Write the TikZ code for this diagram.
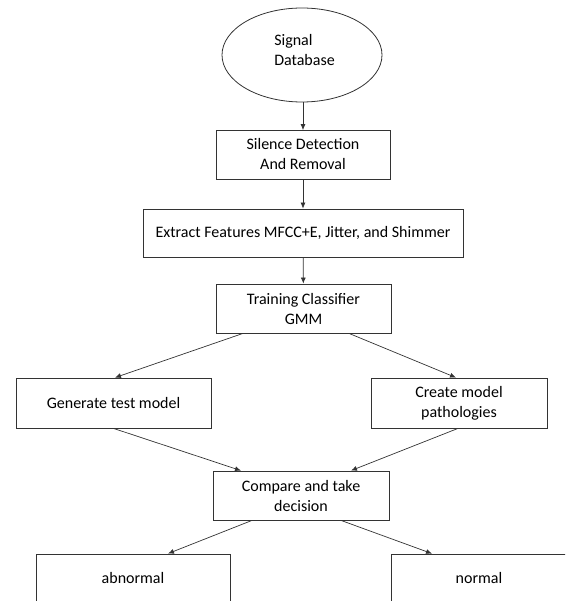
\documentclass[tikz,border=0pt]{standalone}
\usepackage{fontspec}
\setmainfont{Carlito}
\usetikzlibrary{arrows.meta, positioning, shapes.geometric}

\begin{document}
\begin{tikzpicture}[x=1pt, y=-1pt,
  stepbox/.style={rectangle, draw=black!80, line width=0.8pt, inner sep=0pt,
                  font=\fontsize{16}{20}\selectfont, align=center},
  dbase/.style={ellipse, draw=black!80, line width=0.8pt, inner sep=0pt,
                minimum width=160pt, minimum height=94pt,
                font=\fontsize{16}{20}\selectfont, align=left},
  arr/.style={-{Latex[length=6pt, width=5pt]}, line width=0.7pt, black!80},
]
\useasboundingbox (0,0) rectangle (565,601);
\clip (0,0) rectangle (565,601);
% main chain
\node[dbase, text depth=10pt] (db) at (302,55) {\hspace{5pt}Signal\\\hspace{5pt}Database};
\node[stepbox, minimum width=174pt, minimum height=49pt] (silence) at (303,154.5) {Silence Detection\\And Removal};
\node[stepbox, minimum width=320pt, minimum height=48pt] (extract) at (303,233) {Extract Features MFCC+E, Jitter, and Shimmer};
\node[stepbox, minimum width=175pt, minimum height=49pt] (train) at (303.5,308.5) {Training Classifier\\GMM};
% two branches
\node[stepbox, minimum width=195pt, minimum height=50pt] (testmodel) at (113.5,403) {Generate test model};
\node[stepbox, minimum width=176pt, minimum height=50pt] (pathmodel) at (459,403) {Create model\\pathologies};
\node[stepbox, minimum width=176pt, minimum height=49pt] (compare) at (301,495.5) {Compare and take\\decision};
% outcomes
\node[stepbox, minimum width=194pt, minimum height=48pt] (abnormal) at (133,578) {abnormal};
\node[stepbox, minimum width=176pt, minimum height=48pt] (normal) at (479,578) {normal};

\draw[arr] ([xshift=1pt]db.south) -- ([yshift=-0.5pt]silence.north);
\draw[arr] (silence) -- (extract);
\draw[arr] (extract) -- (train);
\draw[arr] ([xshift=-60.5pt]train.south) -- ([xshift=1.5pt]testmodel.north);
\draw[arr] ([xshift=45.5pt]train.south) -- ([xshift=-3pt]pathmodel.north);
\draw[arr] (testmodel.south) -- ([xshift=-60pt]compare.north);
\draw[arr] ([xshift=-1pt]pathmodel.south) -- ([xshift=50pt]compare.north);
\draw[arr] ([xshift=-49pt]compare.south) -- ([xshift=35pt]abnormal.north);
\draw[arr] ([xshift=40pt]compare.south) -- ([xshift=-47pt]normal.north);
\end{tikzpicture}
\end{document}
